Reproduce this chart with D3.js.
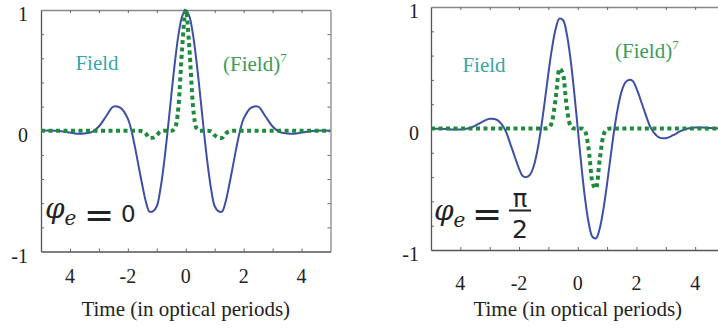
<!DOCTYPE html>
<html>
<head>
<meta charset="utf-8">
<script src="https://cdn.jsdelivr.net/npm/d3@7"></script>
<style>
  body { margin: 0; background: #fff; }
  svg { display: block; }
</style>
</head>
<body>
<svg width="718" height="333"></svg>
<script>
// sample times in optical periods, finer near the centre of the pulse
const timeGrid = [
  -5, -4.75, -4.5, -4.25, -4, -3.75, -3.5, -3.25, -3, -2.75, -2.5, -2.25,
  -2, -1.875, -1.75, -1.625, -1.5, -1.375, -1.25, -1.125, -1, -0.875, -0.75, -0.625,
  -0.5, -0.375, -0.25, -0.125,
  0,
  0.125, 0.25, 0.375, 0.5, 0.625, 0.75, 0.875, 1, 1.125, 1.25, 1.375, 1.5, 1.625,
  1.75, 1.875, 2,
  2.25, 2.5, 2.75, 3, 3.25, 3.5, 3.75, 4, 4.25, 4.5, 4.75, 5
];

// left panel, phi_e = 0
const fieldPhase0 = [
  0.001, 0.002, 0.000, -0.006, -0.015, -0.024, -0.022, -0.012, 0.035, 0.120, 0.200, 0.190,
  0.100, 0.000, -0.140, -0.297, -0.451, -0.590, -0.670, -0.665, -0.625, -0.482, -0.267, 0.000,
  0.290, 0.567, 0.796, 0.947,
  1,
  0.947, 0.796, 0.567, 0.290, 0.000, -0.267, -0.482, -0.625, -0.665, -0.670, -0.590, -0.451, -0.297,
  -0.140, 0.000, 0.100,
  0.190, 0.200, 0.120, 0.035, -0.012, -0.022, -0.024, -0.015, -0.006, 0.000, 0.002, 0.001
];
const field7Phase0 = [
  0, 0, 0, 0, 0, 0, 0, 0, 0, 0, 0, 0,
  0, 0, 0, 0, -0.004, -0.025, -0.060, -0.057, -0.037, -0.006, 0, 0,
  0, 0.019, 0.203, 0.683,
  1,
  0.683, 0.203, 0.019, 0, 0, 0, -0.006, -0.037, -0.057, -0.060, -0.025, -0.004, 0,
  0, 0, 0,
  0, 0, 0, 0, 0, 0, 0, 0, 0, 0, 0, 0
];

// right panel, phi_e = pi/2
const fieldPhasePi2 = [
  0, -0.002, -0.004, -0.008, -0.008, 0, 0.022, 0.055, 0.080, 0.070, 0, -0.160,
  -0.330, -0.390, -0.400, -0.380, -0.310, -0.180, 0, 0.222, 0.454, 0.663, 0.822, 0.904,
  0.891, 0.780, 0.579, 0.308,
  0,
  -0.308, -0.579, -0.780, -0.891, -0.904, -0.822, -0.663, -0.454, -0.222, 0, 0.180, 0.310, 0.380,
  0.400, 0.390, 0.330,
  0.160, 0, -0.070, -0.080, -0.055, -0.022, 0, 0.008, 0.008, 0.004, 0.002, 0
];
const field7PhasePi2 = [
  0, 0, 0, 0, 0, 0, 0, 0, 0, 0, 0, 0,
  0, 0, 0, 0, 0, 0, 0, 0, 0.004, 0.056, 0.254, 0.493,
  0.446, 0.176, 0.022, 0,
  0,
  0, -0.022, -0.176, -0.446, -0.493, -0.254, -0.056, -0.004, 0, 0, 0, 0, 0,
  0, 0, 0,
  0, 0, 0, 0, 0, 0, 0, 0, 0, 0, 0, 0
];

const xMinorTicks = [-4, -3, -2, -1, 0, 1, 2, 3, 4];
const xTickValues = [-4, -2, 0, 2, 4];
const xTickLabels = ["4", "-2", "0", "2", "4"];
const yMinorTicks = [-0.8, -0.6, -0.4, -0.2, 0, 0.2, 0.4, 0.6, 0.8];
const yTickValues = [-1, 0, 1];
const yTickLabels = ["-1", "0", "1"];

const fieldColor = "#3e4fa6";
const field7Color = "#1f8a3c";
const SERIF = '"Liberation Serif"';
const MATH = '"DejaVu Serif"';
const SANS = '"DejaVu Sans"';

const svg = d3.select("svg");
svg.append("rect").attr("width", 718).attr("height", 333).attr("fill", "#fff");

const panels = [
  {id: "p0", left: 41, right: 330.5, top: 10, bottom: 251.5,
   field: fieldPhase0, field7: field7Phase0,
   xLabelY: 283, yLabelX: 28, titleY: 316,
   fieldLabel: [97, 70], field7Label: [223, 71]},
  {id: "p1", left: 431, right: 724.5, top: 7, bottom: 250,
   field: fieldPhasePi2, field7: field7PhasePi2,
   xLabelY: 290, yLabelX: 419, titleY: 316,
   fieldLabel: [484, 72], field7Label: [615, 58]}
];

panels.forEach(p => {
  const x = d3.scaleLinear().domain([-5, 5]).range([p.left, p.right]);
  const y = d3.scaleLinear().domain([-1, 1]).range([p.bottom, p.top]);
  const g = svg.append("g");

  g.append("clipPath").attr("id", "clip-" + p.id)
    .append("rect")
    .attr("x", p.left).attr("y", p.top - 3)
    .attr("width", p.right - p.left).attr("height", p.bottom - p.top + 3);

  // frame with inward ticks
  const frame = [
    [d3.axisBottom(x), `translate(0,${p.bottom})`],
    [d3.axisTop(x), `translate(0,${p.top})`],
    [d3.axisLeft(y), `translate(${p.left},0)`],
    [d3.axisRight(y), `translate(${p.right},0)`]
  ];
  frame.forEach(([axis, tr], i) => {
    axis.tickValues(i < 2 ? xMinorTicks : yMinorTicks)
      .tickSize(-3).tickSizeOuter(0).tickFormat("");
    const a = g.append("g").attr("transform", tr).call(axis);
    a.select(".domain").attr("stroke", i === 0 || i === 2 ? "#555" : "#888")
      .attr("stroke-width", 1.3);
    a.selectAll(".tick line").attr("stroke", "#666").attr("stroke-width", 1);
  });

  // tick labels
  g.selectAll(".xlab").data(xTickValues).join("text")
    .attr("x", d => x(d)).attr("y", p.xLabelY)
    .attr("text-anchor", "middle")
    .style("font-family", SERIF).style("font-size", "20px").attr("fill", "#222")
    .text((d, i) => xTickLabels[i]);

  g.selectAll(".ylab").data(yTickValues).join("text")
    .attr("x", p.yLabelX).attr("y", d => y(d) + 11)
    .attr("text-anchor", "end")
    .style("font-family", SERIF).style("font-size", "20px").attr("fill", "#222")
    .text((d, i) => yTickLabels[i]);

  g.append("text")
    .attr("x", x(0)).attr("y", p.titleY)
    .attr("text-anchor", "middle")
    .style("font-family", SERIF).style("font-size", "21px").attr("fill", "#222")
    .text("Time (in optical periods)");

  // curves
  const line = curve => vals => d3.line()
    .x((d, i) => x(timeGrid[i]))
    .y(d => y(d))
    .curve(curve)(vals);

  const curves = g.append("g").attr("clip-path", `url(#clip-${p.id})`);
  curves.append("path")
    .attr("d", line(d3.curveCatmullRom.alpha(0.5))(p.field))
    .attr("fill", "none")
    .attr("stroke", fieldColor)
    .attr("stroke-width", 2);
  curves.append("path")
    .attr("d", line(d3.curveMonotoneX)(p.field7))
    .attr("fill", "none")
    .attr("stroke", field7Color)
    .attr("stroke-width", 4)
    .attr("stroke-dasharray", "4 3.5");

  // series labels
  g.append("text")
    .attr("x", p.fieldLabel[0]).attr("y", p.fieldLabel[1])
    .attr("text-anchor", "middle")
    .style("font-family", SERIF).style("font-size", "21px").attr("fill", "#38a6a6")
    .text("Field");
  const t7 = g.append("text")
    .attr("x", p.field7Label[0]).attr("y", p.field7Label[1])
    .style("font-family", SERIF).style("font-size", "21px").attr("fill", "#3a9c58");
  t7.append("tspan").text("(Field)");
  t7.append("tspan").attr("dy", -9).style("font-size", "13px").text("7");
});

// phase labels
function phi(xp, yBase) {
  const t = svg.append("text").attr("fill", "#222")
    .style("font-family", MATH).style("font-style", "italic");
  t.append("tspan").attr("x", xp).attr("y", yBase)
    .style("font-size", "28px").text("\u03c6");
  t.append("tspan").attr("dy", 7)
    .style("font-size", "20px").text("e");
}
function mathText(xp, yp, size, str, anchor) {
  svg.append("text").attr("x", xp).attr("y", yp)
    .attr("text-anchor", anchor || "start")
    .style("font-family", SANS).style("font-size", size + "px")
    .attr("fill", "#222").text(str);
}
phi(45, 218);
mathText(84, 227, 36, "=");
mathText(121, 222, 23, "0");

phi(434, 220);
mathText(472, 226, 36, "=");
mathText(520, 207, 24, "\u03c0", "middle");
svg.append("line").attr("x1", 509).attr("x2", 531).attr("y1", 210.5).attr("y2", 210.5)
  .attr("stroke", "#222").attr("stroke-width", 2);
mathText(520, 238, 25, "2", "middle");
</script>
</body>
</html>
